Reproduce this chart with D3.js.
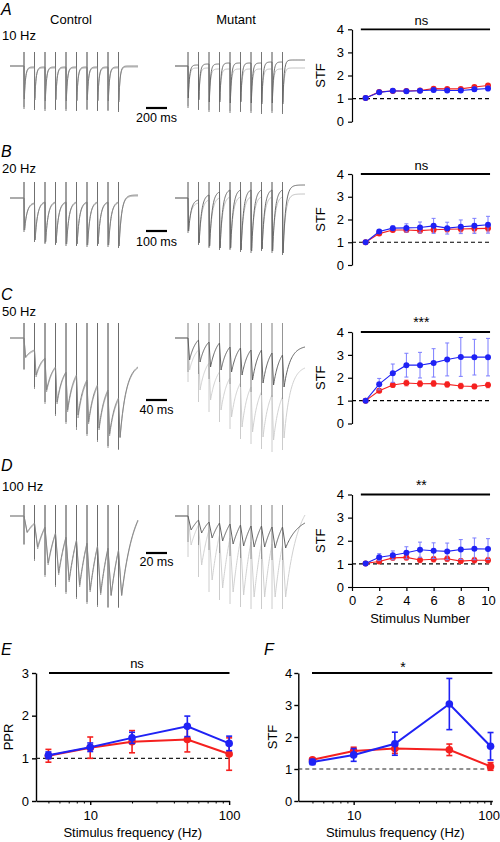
<!DOCTYPE html>
<html><head><meta charset="utf-8">
<script src="https://cdn.jsdelivr.net/npm/d3@7/dist/d3.min.js"></script>
<style>
body{margin:0;background:#fff}
svg{display:block}
text{font-family:"Liberation Sans",Arial,Helvetica,sans-serif;fill:#000}
</style>
</head><body>
<svg id="chart" width="500" height="842"></svg>
<script>
// ================= DATA =================
const stimulusNumber = [1,2,3,4,5,6,7,8,9,10];
const stfYTicks = [0,1,2,3,4];
const stimXTicks = [0,2,4,6,8,10];
const panelLetters = ['A','B','C','D','E','F'];
const groupLabels = ['Control','Mutant'];
const stimRates = [10,20,50,100];
const rateLabels = ['10 Hz','20 Hz','50 Hz','100 Hz'];
const scaleBarMs = [200,100,40,20];
const scaleBarLabels = ['200 ms','100 ms','40 ms','20 ms'];
const sigLabels = ['ns','ns','***','**'];

// STF vs stimulus number (blue / red series), mean and error
const stf10Blue    = [1.03,1.27,1.34,1.32,1.34,1.37,1.35,1.35,1.40,1.44];
const stf10BlueErr = [0.02,0.05,0.06,0.06,0.07,0.08,0.08,0.08,0.09,0.10];
const stf10Red     = [1.03,1.29,1.33,1.33,1.35,1.43,1.42,1.42,1.50,1.57];
const stf10RedErr  = [0.02,0.04,0.05,0.05,0.05,0.06,0.06,0.06,0.06,0.07];

const stf20Blue    = [1.00,1.47,1.62,1.63,1.65,1.72,1.62,1.68,1.72,1.77];
const stf20BlueErr = [0.02,0.08,0.10,0.18,0.24,0.33,0.26,0.30,0.33,0.37];
const stf20Red     = [1.00,1.38,1.54,1.54,1.51,1.55,1.57,1.58,1.60,1.61];
const stf20RedErr  = [0.02,0.06,0.08,0.10,0.10,0.12,0.12,0.13,0.15,0.15];

const stf50Blue    = [1.00,1.72,2.20,2.55,2.55,2.65,2.80,2.91,2.90,2.90];
const stf50BlueErr = [0.02,0.25,0.40,0.52,0.56,0.62,0.72,0.85,0.78,0.82];
const stf50Red     = [1.00,1.43,1.68,1.77,1.74,1.75,1.71,1.64,1.62,1.68];
const stf50RedErr  = [0.02,0.08,0.10,0.13,0.13,0.13,0.12,0.12,0.10,0.12];

const stf100Blue    = [1.02,1.29,1.37,1.48,1.61,1.57,1.54,1.62,1.65,1.64];
const stf100BlueErr = [0.02,0.15,0.19,0.26,0.33,0.34,0.36,0.43,0.47,0.45];
const stf100Red     = [1.02,1.10,1.26,1.28,1.17,1.20,1.22,1.12,1.16,1.16];
const stf100RedErr  = [0.02,0.06,0.10,0.12,0.12,0.12,0.12,0.10,0.12,0.12];

// Frequency summaries
const freqs = [5,10,20,50,100];
const freqMajorTicks = [10,100];
const freqMinorTicks = [5,6,7,8,9,20,30,40,50,60,70,80,90];
const pprYTicks = [0,1,2,3];
const pprBlue    = [1.07,1.26,1.48,1.75,1.35];
const pprBlueErr = [0.08,0.10,0.13,0.24,0.17];
const pprRed     = [1.06,1.25,1.39,1.44,1.10];
const pprRedErr  = [0.15,0.25,0.26,0.29,0.38];
const stfFreqBlue    = [1.22,1.44,1.79,3.03,1.71];
const stfFreqBlueErr = [0.08,0.20,0.36,0.80,0.43];
const stfFreqRed     = [1.29,1.56,1.64,1.60,1.08];
const stfFreqRedErr  = [0.05,0.12,0.15,0.18,0.12];
const freqSig = ['ns','*'];

// Example traces: current relative to baseline (arbitrary units, negative = inward)
// troughs: EPSC peak after each stimulus; pre: level just before each stimulus + final tail level
const ctrl10DarkTrough  = [-3.3,-3.4,-3.5,-3.4,-3.5,-3.5,-3.4,-3.5,-3.5,-3.6];
const ctrl10DarkPre     = [0,-0.1,-0.1,-0.1,-0.1,-0.1,-0.1,-0.1,-0.1,-0.1,0.0];
const ctrl10LightTrough = [-3.1,-3.2,-3.3,-3.3,-3.3,-3.4,-3.3,-3.4,-3.4,-3.4];
const ctrl10LightPre    = [0,-0.2,-0.2,-0.2,-0.2,-0.2,-0.2,-0.2,-0.2,-0.2,-0.1];
const mut10DarkTrough   = [-3.2,-3.4,-3.6,-3.6,-3.7,-3.6,-3.7,-3.8,-3.7,-3.8];
const mut10DarkPre      = [0,0.1,0.2,0.2,0.3,0.3,0.3,0.3,0.4,0.4,0.6];
const mut10LightTrough  = [-3.0,-3.3,-3.4,-3.4,-3.5,-3.5,-3.5,-3.6,-3.5,-3.6];
const mut10LightPre     = [0,-0.2,-0.2,-0.3,-0.3,-0.3,-0.3,-0.3,-0.3,-0.3,-0.2];

const ctrl20DarkTrough  = [-3.2,-4.2,-4.4,-4.5,-4.6,-4.6,-4.7,-4.6,-4.7,-4.8];
const ctrl20DarkPre     = [0,-0.5,-0.4,-0.4,-0.4,-0.4,-0.4,-0.4,-0.4,-0.4,0.3];
const ctrl20LightTrough = [-3.0,-4.0,-4.3,-4.4,-4.4,-4.5,-4.5,-4.5,-4.5,-4.6];
const ctrl20LightPre    = [0,-0.6,-0.5,-0.5,-0.5,-0.5,-0.5,-0.5,-0.5,-0.5,0.2];
const mut20DarkTrough   = [-3.3,-4.5,-4.8,-5.0,-5.0,-5.2,-5.3,-5.1,-5.3,-5.5];
const mut20DarkPre      = [0,-0.2,0.3,0.6,0.8,0.8,0.8,0.8,0.8,0.8,1.3];
const mut20LightTrough  = [-3.1,-4.4,-4.7,-4.8,-4.9,-5.0,-5.0,-5.0,-5.1,-5.2];
const mut20LightPre     = [0,-0.5,-0.2,0.0,0.1,0.1,0.1,0.1,0.1,0.1,0.4];

const ctrl50DarkTrough  = [-1.9,-3.7,-5.2,-6.4,-7.2,-7.7,-8.4,-9.0,-9.6,-9.9];
const ctrl50DarkPre     = [0,-1.2,-2.0,-2.9,-3.4,-3.7,-4.2,-4.7,-5.2,-6.0,-2.9];
const ctrl50LightTrough = [-2.0,-3.9,-5.4,-6.6,-7.4,-8.0,-8.6,-9.2,-9.8,-10.0];
const ctrl50LightPre    = [0,-1.3,-2.1,-3.0,-3.5,-3.9,-4.4,-4.9,-5.4,-6.2,-3.0];
const mut50DarkTrough   = [-2.2,-2.4,-2.9,-3.2,-3.4,-3.7,-4.2,-4.5,-4.7,-4.9];
const mut50DarkPre      = [0,-0.2,-0.4,-0.5,-0.9,-1.0,-1.2,-1.2,-1.5,-1.7,-0.9];
const mut50LightTrough  = [-3.2,-5.2,-6.2,-7.2,-7.9,-8.9,-9.4,-9.9,-10.2,-10.0];
const mut50LightPre     = [0,-1.2,-2.5,-3.4,-4.0,-4.5,-4.9,-5.4,-5.7,-5.9,-3.0];

const ctrl100DarkTrough  = [-1.6,-3.1,-4.7,-5.7,-6.4,-6.9,-7.4,-7.7,-7.9,-7.9];
const ctrl100DarkPre     = [0,-0.7,-1.1,-1.7,-2.1,-2.4,-2.7,-3.0,-3.2,-3.4,-0.4];
const ctrl100LightTrough = [-1.7,-3.3,-4.9,-5.9,-6.6,-7.1,-7.6,-7.9,-8.0,-8.0];
const ctrl100LightPre    = [0,-0.8,-1.2,-1.8,-2.2,-2.5,-2.8,-3.1,-3.3,-3.5,-0.5];
const mut100DarkTrough   = [-1.4,-1.7,-2.2,-2.5,-2.8,-3.0,-3.1,-3.1,-3.2,-3.2];
const mut100DarkPre      = [0,-0.4,-0.6,-0.7,-0.8,-0.9,-1.0,-1.0,-1.1,-1.1,-0.7];
const mut100LightTrough  = [-2.9,-4.9,-6.4,-7.2,-7.6,-7.9,-8.1,-8.1,-8.1,-8.1];
const mut100LightPre     = [0,-0.9,-1.4,-1.9,-2.2,-2.4,-2.6,-2.7,-2.8,-2.9,0.1];

// stimulus artifact extent above baseline (same units)
const artifactTop = [1.4,1.6,1.5,1.1];
const artifactBelow = [1.0,0.2,1.2,1.2];

// ================= LAYOUT =================
const svg = d3.select('#chart');
const BLUE = '#1f22f5', RED = '#f5201f';
const BLUE_ERR = '#7b7dff', RED_ERR = '#ff7d7d';

const rows = [
  {top:29.3, bottom:121.7, base:66,  letterY:15,  rateY:40,  barY:108, barTextY:122},
  {top:174,  bottom:265,   base:198, letterY:157, rateY:173, barY:231, barTextY:246},
  {top:332,  bottom:423.5, base:338, letterY:300, rateY:316, barY:400, barTextY:414},
  {top:494.5,bottom:587,   base:516, letterY:471, rateY:491, barY:553, barTextY:566}
];
const stfSeries = [
  [stf10Blue,stf10BlueErr,stf10Red,stf10RedErr],
  [stf20Blue,stf20BlueErr,stf20Red,stf20RedErr],
  [stf50Blue,stf50BlueErr,stf50Red,stf50RedErr],
  [stf100Blue,stf100BlueErr,stf100Red,stf100RedErr]
];
const traces = [
  {ctrl:[[ctrl10LightPre,ctrl10LightTrough],[ctrl10DarkPre,ctrl10DarkTrough]],
   mut:[[mut10LightPre,mut10LightTrough],[mut10DarkPre,mut10DarkTrough]]},
  {ctrl:[[ctrl20LightPre,ctrl20LightTrough],[ctrl20DarkPre,ctrl20DarkTrough]],
   mut:[[mut20LightPre,mut20LightTrough],[mut20DarkPre,mut20DarkTrough]]},
  {ctrl:[[ctrl50LightPre,ctrl50LightTrough],[ctrl50DarkPre,ctrl50DarkTrough]],
   mut:[[mut50LightPre,mut50LightTrough],[mut50DarkPre,mut50DarkTrough]]},
  {ctrl:[[ctrl100LightPre,ctrl100LightTrough],[ctrl100DarkPre,ctrl100DarkTrough]],
   mut:[[mut100LightPre,mut100LightTrough],[mut100DarkPre,mut100DarkTrough]]}
];

function txt(x,y,s,opt={}){
  const t = svg.append('text').attr('x',x).attr('y',y).text(s)
    .style('font-size',(opt.size||13)+'px');
  if(opt.anchor) t.attr('text-anchor',opt.anchor);
  if(opt.italic) t.style('font-style','italic');
  if(opt.rotate) t.attr('transform',`rotate(-90,${x},${y})`);
  return t;
}

function styleAxis(g, w){
  g.selectAll('.domain').attr('stroke','#000').attr('stroke-width',w||1.2);
  g.selectAll('.tick line').attr('stroke','#000').attr('stroke-width',w||1.2);
  g.selectAll('.tick text').style('font-size','13px')
    .style('font-family','"Liberation Sans",Arial,sans-serif').attr('fill','#000');
}

function drawSeries(g, x, y, xs, vals, errs, color, errColor, lw, r, capW, errW){
  xs.forEach((xv,i)=>{
    const cx = x(xv), y1 = y(vals[i]-errs[i]), y2 = y(vals[i]+errs[i]);
    g.append('line').attr('x1',cx).attr('x2',cx).attr('y1',y1).attr('y2',y2)
      .attr('stroke',errColor).attr('stroke-width',errW);
    [y1,y2].forEach(yy=>g.append('line').attr('x1',cx-capW).attr('x2',cx+capW)
      .attr('y1',yy).attr('y2',yy).attr('stroke',errColor).attr('stroke-width',errW));
  });
  g.append('path').datum(xs.map((xv,i)=>[xv,vals[i]]))
    .attr('d', d3.line().x(d=>x(d[0])).y(d=>y(d[1])))
    .attr('fill','none').attr('stroke',color).attr('stroke-width',lw);
  g.selectAll(null).data(xs.map((xv,i)=>[xv,vals[i]])).enter().append('circle')
    .attr('cx',d=>x(d[0])).attr('cy',d=>y(d[1])).attr('r',r).attr('fill',color);
}

// waveform through the read trough / pre-stimulus levels
function tracePoints(rate, pre, trough, tStart, tEnd){
  const period = 1000/rate, rise = 3, tau = 12;
  const pts = [[tStart, pre[0]]];
  for(let i=0;i<trough.length;i++){
    const t0 = i*period, tp = t0+rise;
    pts.push([t0, pre[i]]);
    pts.push([tp, trough[i]]);
    const tNext = i<trough.length-1 ? (i+1)*period : tEnd;
    const target = pre[i+1], S = tNext-tp, eS = Math.exp(-S/tau);
    const n = 30;
    for(let k=1;k<=n;k++){
      const s = S*k/n;
      const gg = (Math.exp(-s/tau)-eS)/(1-eS);
      pts.push([tp+s, target+(trough[i]-target)*gg]);
    }
  }
  return pts;
}

function drawTraceGroup(ri, set, xStim0, xStart, xEnd, colors){
  const row = rows[ri], rate = stimRates[ri];
  const x = d3.scaleLinear().domain([0, scaleBarMs[ri]]).range([xStim0, xStim0+21]);
  const y = d3.scaleLinear().domain([0,-1]).range([row.base, row.base+10]);
  const tStart = x.invert(xStart), tEnd = x.invert(xEnd);
  const g = svg.append('g');
  set.forEach((tr,k)=>{
    const [pre,trough] = tr;
    // stimulus artifacts
    trough.forEach((tv,i)=>{
      const xx = x(i*1000/rate);
      g.append('line').attr('x1',xx).attr('x2',xx)
        .attr('y1',y(artifactTop[ri])).attr('y2',y(tv-artifactBelow[ri]))
        .attr('stroke',colors[k].art).attr('stroke-width',0.9);
    });
    g.append('path').datum(tracePoints(rate,pre,trough,tStart,tEnd))
      .attr('d', d3.line().x(d=>x(d[0])).y(d=>y(d[1])))
      .attr('fill','none').attr('stroke',colors[k].line).attr('stroke-width',0.95)
      .attr('stroke-linejoin','round');
  });
}

// ================= PANELS A-D =================
const xStf = d3.scaleLinear().domain([0,10]).range([352,488]);
rows.forEach((row,ri)=>{
  // letters and labels
  txt(1,row.letterY,panelLetters[ri],{size:16,italic:true});
  txt(2,row.rateY,rateLabels[ri],{size:13});
  if(ri===0){
    txt(71,24,groupLabels[0],{anchor:'middle'});
    txt(236,24,groupLabels[1],{anchor:'middle'});
  }
  // traces
  const ctrlColors = ri<2 ? [{line:'#a8a8a8',art:'#8e8e8e'},{line:'#7c7c7c',art:'#6a6a6a'}]
                          : [{line:'#a8a8a8',art:'#8c8c8c'},{line:'#858585',art:'#666666'}];
  const mutColors = ri<2 ? [{line:'#bcbcbc',art:'#a0a0a0'},{line:'#666666',art:'#707070'}]
                         : [{line:'#cdcdcd',art:'#c6c6c6'},{line:'#5c5c5c',art:'#8e8e8e'}];
  drawTraceGroup(ri, traces[ri].ctrl, 24, 10, 138, ctrlColors);
  drawTraceGroup(ri, traces[ri].mut, 188, 175, 305, mutColors);
  // scale bar
  const xb = d3.scaleLinear().domain([0,scaleBarMs[ri]]).range([146,167]);
  svg.append('line').attr('x1',xb(0)).attr('x2',xb(scaleBarMs[ri]))
    .attr('y1',row.barY).attr('y2',row.barY).attr('stroke','#000').attr('stroke-width',2.2);
  txt(156.5,row.barTextY,scaleBarLabels[ri],{anchor:'middle',size:12.5});

  // STF plot
  const y = d3.scaleLinear().domain([0,4]).range([row.bottom,row.top]);
  const g = svg.append('g');
  const ya = g.append('g').attr('transform','translate(352,0)')
    .call(d3.axisLeft(y).tickValues(stfYTicks).tickSize(4).tickSizeOuter(0).tickPadding(4).tickFormat(d3.format('d')));
  styleAxis(ya,1.2);
  if(ri===3){
    const xa = g.append('g').attr('transform',`translate(0,${row.bottom})`)
      .call(d3.axisBottom(xStf).tickValues(stimXTicks).tickSize(4).tickSizeOuter(0).tickPadding(5));
    styleAxis(xa,1.2);
    txt(420,623,'Stimulus Number',{anchor:'middle'});
  }
  // reference line
  g.append('line').attr('x1',xStf(0)).attr('x2',xStf(10.15)).attr('y1',y(1)).attr('y2',y(1))
    .attr('stroke','#000').attr('stroke-width',1.2).attr('stroke-dasharray','4,3');
  // significance
  g.append('line').attr('x1',xStf(0.65)).attr('x2',xStf(10.15)).attr('y1',y(4)).attr('y2',y(4))
    .attr('stroke','#000').attr('stroke-width',1.8);
  txt(xStf(5.1), row.top-(ri>=2?5:4.5), sigLabels[ri],{anchor:'middle',size:ri>=2?14:13});
  txt(325,(row.top+row.bottom)/2,'STF',{anchor:'middle',rotate:true});
  const [b,be,r,re] = stfSeries[ri];
  drawSeries(g,xStf,y,stimulusNumber,r,re,RED,RED_ERR,1.1,3,2,1);
  drawSeries(g,xStf,y,stimulusNumber,b,be,BLUE,BLUE_ERR,1.1,3,2,1);
});

// ================= PANELS E, F =================
function freqPanel(opt){
  const x = d3.scaleLog().domain(opt.xDomain).range([opt.x0,opt.x1]);
  const y = d3.scaleLinear().domain([0,opt.yMax]).range([801,673]);
  const g = svg.append('g');
  const ya = g.append('g').attr('transform',`translate(${opt.x0},0)`)
    .call(d3.axisLeft(y).tickValues(opt.yTicks).tickSize(4).tickSizeOuter(0).tickPadding(opt.yPad).tickFormat(d3.format('d')));
  styleAxis(ya,1.4);
  const xa = g.append('g').attr('transform','translate(0,801)')
    .call(d3.axisBottom(x).tickValues(freqMajorTicks.concat(freqMinorTicks)).tickSize(4).tickSizeOuter(0).tickPadding(6)
      .tickFormat(d=>freqMajorTicks.includes(d)?d:''));
  styleAxis(xa,1.4);
  xa.selectAll('.tick').filter(d=>!freqMajorTicks.includes(d)).select('line').attr('y2',2.5).attr('stroke-width',1);
  if(opt.lastShift) xa.selectAll('.tick').filter(d=>d===100).select('text').attr('dx',opt.lastShift);
  g.append('line').attr('x1',opt.x0).attr('x2',opt.x1).attr('y1',y(1)).attr('y2',y(1))
    .attr('stroke','#222').attr('stroke-width',1.2).attr('stroke-dasharray','4,3');
  g.append('line').attr('x1',opt.sig0).attr('x2',opt.x1).attr('y1',y(opt.yMax)).attr('y2',y(opt.yMax))
    .attr('stroke','#000').attr('stroke-width',1.8);
  txt(opt.sigX,opt.sigY,opt.sig,{anchor:'middle',size:opt.sig==='*'?14:13});
  txt(opt.labelX,737,opt.ylabel,{anchor:'middle',rotate:true});
  txt((opt.x0+opt.x1)/2,837,'Stimulus frequency (Hz)',{anchor:'middle'});
  txt(opt.letterX,655,opt.letter,{size:16,italic:true});
  drawSeries(g,x,y,freqs,opt.red,opt.redErr,RED,RED,2,3.8,3,1.6);
  drawSeries(g,x,y,freqs,opt.blue,opt.blueErr,BLUE,BLUE,2,3.8,3,1.6);
}
freqPanel({xDomain:[4.07,100.6],x0:36,x1:229.5,yMax:3,yTicks:pprYTicks,yPad:3,
  sig0:49,sig:freqSig[0],sigX:137,sigY:668,labelX:13,ylabel:'PPR',letter:panelLetters[4],letterX:1,
  blue:pprBlue,blueErr:pprBlueErr,red:pprRed,redErr:pprRedErr});
freqPanel({xDomain:[3.94,103],x0:298.3,x1:492.3,yMax:4,yTicks:stfYTicks,yPad:2,
  sig0:312,sig:freqSig[1],sigX:403,sigY:672,labelX:277,ylabel:'STF',letter:panelLetters[5],letterX:264,
  lastShift:-2,blue:stfFreqBlue,blueErr:stfFreqBlueErr,red:stfFreqRed,redErr:stfFreqRedErr});
</script>
</body></html>
